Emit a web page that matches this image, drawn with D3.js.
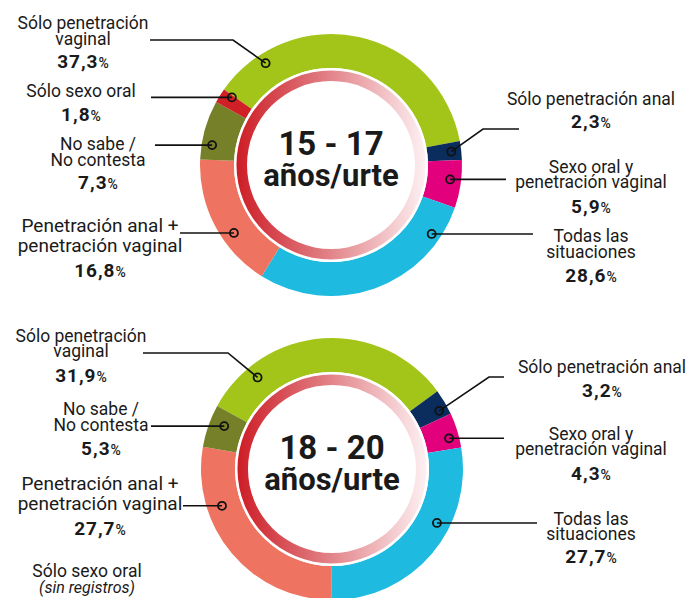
<!DOCTYPE html>
<html lang="es">
<head>
<meta charset="UTF-8">
<title>Prácticas sexuales por edad</title>
<script src="https://d3js.org/d3.v7.min.js"></script>
<style>
  body { margin: 0; background: #fff; }
  svg text { font-family: Roboto, "DejaVu Sans", sans-serif; fill: #1a1a1a; }
</style>
</head>
<body>
<svg width="692" height="598"></svg>
<script>
// categories in ring order (clockwise)
const categories = [
  "Sólo penetración vaginal",
  "Sólo penetración anal",
  "Sexo oral y penetración vaginal",
  "Todas las situaciones",
  "Penetración anal + penetración vaginal",
  "No sabe / No contesta",
  "Sólo sexo oral"
];
const colors = ["#a3c51a", "#0b2d5e", "#e3007d", "#1ebae0", "#ee7360", "#758029", "#d11f26"];

const ageGroups = ["15 - 17", "18 - 20"];
const ageSuffix = "años/urte";
const values1517 = [37.3, 2.3, 5.9, 28.6, 16.8, 7.3, 1.8];
const values1820 = [31.9, 3.2, 4.3, 27.7, 27.7, 5.3, 0];
const valueLabels1517 = ["37,3", "2,3", "5,9", "28,6", "16,8", "7,3", "1,8"];
const valueLabels1820 = ["31,9", "3,2", "4,3", "27,7", "27,7", "5,3", null];

// label text as it is broken on the page
const labelLines = [
  ["Sólo penetración", "vaginal"],
  ["Sólo penetración anal"],
  ["Sexo oral y", "penetración vaginal"],
  ["Todas las", "situaciones"],
  ["Penetración anal +", "penetración vaginal"],
  ["No sabe /", "No contesta"],
  ["Sólo sexo oral"]
];

const svg = d3.select("svg");
const rOuter = 131, rInner = 97, rGradOut = 94.5, rGradIn = 84;

const defs = svg.append("defs");
const grad = defs.append("linearGradient").attr("id", "ringGrad")
  .attr("x1", "0%").attr("x2", "100%").attr("y1", "0%").attr("y2", "0%");
grad.append("stop").attr("offset", "0%").attr("stop-color", "#cd1d26");
grad.append("stop").attr("offset", "45%").attr("stop-color", "#e07a80");
grad.append("stop").attr("offset", "100%").attr("stop-color", "#fdf1f3");

// layout of the callouts for each chart
const layout = [
  {
    cx: 331, cy: 165, start: -54.8, values: values1517, texts: valueLabels1517,
    notes: [
      { i: 0, x: 83, ys: [29, 45], py: 68, lx: 150, ly: 40, ex: 233, a: -32.7, r: 121 },
      { i: 6, x: 81, ys: [97], py: 121, lx: 151, a: -55.7, r: 120 },
      { i: 5, x: 98, ys: [150, 166], py: 189, lx: 155, a: -80.5, r: 120.5 },
      { i: 4, x: 100, ys: [232, 252], py: 277, lx: 180, a: -125, r: 118.5, fs: 19 },
      { i: 1, x: 591, ys: [105], py: 128, lx: 519, ly: 129, ex: 483, a: 83.7, r: 121 },
      { i: 2, x: 591, ys: [173, 188], py: 213, lx: 506, a: 96.9, r: 120 },
      { i: 3, x: 591, ys: [242, 258], py: 282, lx: 533, a: 124.4, r: 122 }
    ]
  },
  {
    cx: 332, cy: 469, start: -61.2, values: values1820, texts: valueLabels1820,
    notes: [
      { i: 0, x: 81, ys: [342, 357], py: 382, lx: 143, ly: 353, ex: 228, a: -39.1, r: 118, lines: ["Sólo  penetración", "vaginal"] },
      { i: 5, x: 101, ys: [415, 431], py: 455, lx: 151, a: -68.3, r: 116 },
      { i: 4, x: 100, ys: [490, 510], py: 535, lx: 183, a: -108.5, r: 116, fs: 19 },
      { i: 1, x: 602, ys: [373], py: 397, lx: 504, ly: 377, ex: 489, a: 61.5, r: 122 },
      { i: 2, x: 591, ys: [440, 455], py: 480, lx: 504, a: 75.3, r: 121 },
      { i: 3, x: 591, ys: [525, 540], py: 563, lx: 537, a: 117.2, r: 118 },
      { i: 6, x: 87, ys: [577], sub: "(sin registros)", sy: 593 }
    ]
  }
];

const rad = d => d * Math.PI / 180;
const arc = d3.arc().innerRadius(rInner).outerRadius(rOuter);

layout.forEach((c, k) => {
  const pie = d3.pie().sort(null).value(d => d)
    .startAngle(rad(c.start)).endAngle(rad(c.start) + 2 * Math.PI);
  const g = svg.append("g").attr("transform", `translate(${c.cx},${c.cy})`);

  g.selectAll("path.seg")
    .data(pie(c.values))
    .join("path")
    .attr("class", "seg")
    .attr("d", arc)
    .attr("fill", (d, i) => colors[i]);

  // inner gradient ring with white rim
  g.append("circle").attr("r", rInner).attr("fill", "#fff");
  g.append("path")
    .attr("d", d3.arc().innerRadius(rGradIn).outerRadius(rGradOut)({ startAngle: 0, endAngle: 2 * Math.PI }))
    .attr("fill", "url(#ringGrad)");

  g.append("text").attr("text-anchor", "middle").attr("y", -10)
    .attr("font-size", 33).attr("font-weight", 700).text(ageGroups[k]);
  g.append("text").attr("text-anchor", "middle").attr("y", 21)
    .attr("font-size", 31).attr("font-weight", 700).text(ageSuffix);

  // callouts
  c.notes.forEach(n => {
    const lines = n.lines || labelLines[n.i];
    const t = svg.append("text").attr("text-anchor", "middle").attr("font-size", n.fs || 17.5);
    lines.forEach((s, j) => t.append("tspan").attr("x", n.x).attr("y", n.ys[j]).text(s));

    if (n.sub) {
      svg.append("text").attr("text-anchor", "middle").attr("x", n.x).attr("y", n.sy)
        .attr("font-size", 16).attr("font-style", "italic").text(n.sub);
      return;
    }

    const p = svg.append("text").attr("text-anchor", "middle").attr("x", n.x).attr("y", n.py);
    p.append("tspan").attr("font-size", 19).attr("font-weight", 700)
      .attr("letter-spacing", 1).text(c.texts[n.i]);
    p.append("tspan").attr("font-size", 14).attr("font-weight", 500).text("%");

    const [dx, dy] = d3.pointRadial(rad(n.a), n.r);
    const px = c.cx + dx, py = c.cy + dy;
    const pts = n.ex !== undefined
      ? [[n.lx, n.ly], [n.ex, n.ly], [px, py]]
      : [[n.lx, py], [px, py]];
    svg.append("path").attr("d", d3.line()(pts))
      .attr("fill", "none").attr("stroke", "#111").attr("stroke-width", 1.6);
    svg.append("circle").attr("cx", px).attr("cy", py).attr("r", 4)
      .attr("fill", "none").attr("stroke", "#111").attr("stroke-width", 1.8);
  });
});
</script>
</body>
</html>
